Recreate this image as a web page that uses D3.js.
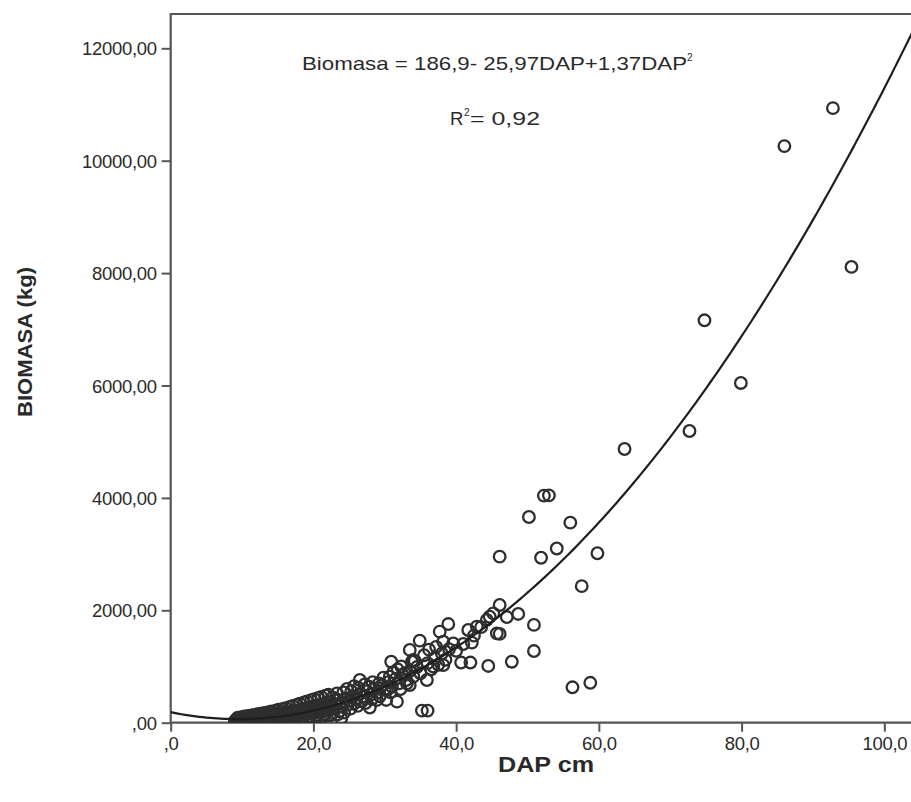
<!DOCTYPE html>
<html>
<head>
<meta charset="utf-8">
<script src="https://cdn.jsdelivr.net/npm/d3@7"></script>
<style>
  body { margin: 0; background: #fff; }
  svg { display: block; }
  text { font-family: "Liberation Sans", Arial, sans-serif; fill: #2a2a2a; }
</style>
</head>
<body>
<svg></svg>
<script>
var width = 911, height = 802;

// DAP (cm) and BIOMASA (kg)
var dap = [
  9.0, 9.2, 9.3, 9.5, 9.6, 9.8, 10.0, 10.1, 10.2, 10.4, 10.5, 10.7, 10.9, 11.0, 11.2, 11.4, 11.5, 11.6, 11.8,
  12.0, 12.2, 12.3, 12.5, 12.7, 12.8, 13.0, 13.2, 13.4, 13.5, 13.6, 13.8, 14.0, 14.2, 14.3, 14.5, 14.6, 14.8,
  15.0, 15.2, 15.3, 15.5, 15.6, 15.8, 16.0, 16.2, 16.3, 16.5, 16.6, 16.8, 17.0, 17.2, 17.3, 17.5, 17.6, 17.8,
  18.0, 18.2, 18.3, 18.5, 18.6, 18.8, 19.0, 19.2, 19.3, 19.5, 19.6, 19.8, 20.0, 20.2, 20.3, 20.5, 20.6, 20.8,
  21.0, 21.2, 21.3, 21.5, 21.6, 21.8, 22.0, 22.2, 22.3, 22.5, 22.6, 22.8, 23.0, 23.2, 23.5, 23.6, 23.8, 24.0,
  24.5, 24.8, 25.0, 25.5, 25.8, 26.0, 26.5, 26.8, 27.0, 27.5, 28.0, 28.5, 29.0, 29.5, 30.0, 30.5, 31.0, 31.5,
  32.0, 32.5, 33.0, 33.5, 34.0, 34.5, 35.0, 36.0, 36.5, 37.0, 37.5, 38.0, 38.5, 39.0, 40.0, 41.0, 42.5, 43.5,
  9.4, 9.9, 10.3, 10.8, 11.3, 11.7, 12.1, 12.6, 13.1, 13.7, 14.1, 14.7, 15.1, 15.7, 16.1, 16.7, 17.1, 17.7,
  18.1, 18.7, 19.1, 19.7, 20.1, 20.7, 21.1, 21.7, 22.1, 22.7, 23.3, 24.2, 24.7, 25.3, 25.7, 26.3, 27.2, 27.8,
  28.3, 29.2, 29.8, 30.7, 31.2, 31.8, 32.3, 32.8, 34.2, 35.5, 36.2, 37.2,
  10.6, 11.9, 13.3, 14.4, 15.4, 16.4, 17.4, 18.4, 19.4, 20.4, 21.4, 22.4, 23.4, 24.3, 25.2, 26.2, 27.3, 28.2,
  29.3, 30.8, 32.2,
  23.9, 26.5, 27.9, 28.9, 30.2, 30.3, 30.9, 31.7, 33.1, 33.5, 33.5, 33.8, 34.0, 34.9, 35.2, 35.9, 36.0, 36.8,
  37.7, 38.2, 38.2, 38.9, 39.6, 40.7, 41.7, 42.0, 42.2, 42.9, 44.3, 44.5, 44.7, 45.2, 45.7, 46.1, 46.1, 46.1,
  47.1, 47.8, 48.7, 50.2, 50.9, 50.9, 51.9, 52.3, 53.0, 54.1, 56.0, 56.3, 57.6, 58.8, 59.8, 63.6, 72.7, 74.8,
  79.9, 86.0, 92.8, 95.4
];
var biomasa = [
  30, 60, 45, 25, 70, 55, 40, 20, 60, 85, 35, 70, 30, 50, 80, 100, 45, 25, 65,
  90, 55, 115, 75, 40, 100, 60, 85, 130, 110, 45, 70, 95, 125, 150, 80, 55, 105,
  140, 90, 170, 120, 60, 155, 100, 190, 135, 170, 75, 115, 150, 215, 190, 125, 85, 165,
  210, 240, 140, 185, 100, 230, 155, 270, 200, 250, 115, 170, 225, 300, 280, 190, 130, 250,
  310, 330, 215, 270, 150, 340, 235, 380, 300, 370, 170, 260, 330, 420, 400, 200, 290, 360,
  430, 320, 390, 470, 350, 430, 510, 380, 470, 560, 500, 610, 540, 660, 590, 720, 640, 780,
  700, 850, 760, 920, 820, 990, 880, 1060, 950, 1150, 1030, 1230, 1120, 1310, 1280, 1400, 1550, 1700,
  90, 100, 110, 120, 130, 140, 150, 160, 175, 185, 200, 215, 230, 245, 260, 280, 300, 320,
  340, 360, 380, 400, 420, 440, 460, 480, 500, 450, 520, 540, 600, 560, 650, 620, 680, 640,
  720, 700, 800, 820, 900, 950, 1000, 880, 1100, 1200, 1300, 1350,
  10, 15, 20, 30, 40, 50, 60, 70, 80, 95, 110, 130, 150, 180, 250, 300, 350, 420,
  470, 540, 600,
  80, 760, 270, 405, 405, 580, 1085, 375, 700, 670, 1295, 1085, 1115, 1460, 215, 760, 215, 1000,
  1620, 1025, 1440, 1755, 1410, 1070, 1650, 1070, 1425, 1710, 1830, 1010, 1885, 1945, 1590, 2095, 1580, 2955,
  1880, 1085, 1935, 3660, 1740, 1275, 2935, 4040, 4045, 3100, 3560, 630, 2430, 710, 3015, 4870, 5190, 7160,
  6045, 10260, 10935, 8110
];

// fitted curve: Biomasa = 186,9 - 25,97 DAP + 1,37 DAP^2
var coef = [186.9, -25.97, 1.37];

var xTicks = [0, 20, 40, 60, 80, 100];
var yTicks = [0, 2000, 4000, 6000, 8000, 10000, 12000];

var fmtX = function(v) { return d3.format(".1f")(v).replace(".", ",").replace(/^0,/, ","); };
var fmtY = function(v) { return d3.format(".2f")(v).replace(".", ",").replace(/^0,/, ","); };

var svg = d3.select("svg").attr("width", width).attr("height", height);

var x = d3.scaleLinear().domain([0, 100]).range([170.7, 884.3]);
var y = d3.scaleLinear().domain([0, 12000]).range([722.7, 48.3]);

var plotTop = 14, plotRight = 920;

svg.append("defs").append("clipPath").attr("id", "plot")
  .append("rect")
  .attr("x", x(0)).attr("y", plotTop)
  .attr("width", plotRight - x(0)).attr("height", y(0) - plotTop);

// frame
svg.append("path")
  .attr("d", "M" + plotRight + "," + plotTop + "H" + x(0) + "V" + y(0) + "H" + plotRight)
  .attr("fill", "none")
  .attr("stroke", "#555")
  .attr("stroke-width", 2.2);

// axes
var xAxis = svg.append("g")
  .attr("transform", "translate(0," + y(0) + ")")
  .call(d3.axisBottom(x).tickValues(xTicks).tickSize(9).tickPadding(5).tickFormat(fmtX));
var yAxis = svg.append("g")
  .attr("transform", "translate(" + x(0) + ",0)")
  .call(d3.axisLeft(y).tickValues(yTicks).tickSize(9).tickPadding(5).tickFormat(fmtY));

[xAxis, yAxis].forEach(function(a) {
  a.select(".domain").remove();
  a.selectAll("line").attr("stroke", "#555").attr("stroke-width", 2);
  a.selectAll("text")
    .attr("font-family", "'Liberation Sans', Arial, sans-serif")
    .attr("font-size", 18.5)
    .attr("fill", "#333")
    .attr("letter-spacing", -0.3);
});
yAxis.selectAll("text").attr("dy", "0.36em");

// points
var g = svg.append("g").attr("clip-path", "url(#plot)");

g.selectAll("circle")
  .data(d3.range(dap.length))
  .join("circle")
  .attr("cx", function(i) { return x(dap[i]); })
  .attr("cy", function(i) { return y(biomasa[i]); })
  .attr("r", 5.8)
  .attr("fill", "none")
  .attr("stroke", "#2e2e2e")
  .attr("stroke-width", 2.3);

// fitted curve
var curveX = d3.range(0, 106, 0.5);
var line = d3.line()
  .x(function(d) { return x(d); })
  .y(function(d) { return y(coef[0] + coef[1] * d + coef[2] * d * d); });

g.append("path")
  .datum(curveX)
  .attr("d", line)
  .attr("fill", "none")
  .attr("stroke", "#1e1e1e")
  .attr("stroke-width", 2.2);

// annotation
svg.append("text")
  .attr("x", 302).attr("y", 70)
  .attr("font-size", 18.5)
  .attr("textLength", 385)
  .attr("lengthAdjust", "spacingAndGlyphs")
  .text("Biomasa = 186,9- 25,97DAP+1,37DAP");
svg.append("text")
  .attr("x", 687).attr("y", 61)
  .attr("font-size", 10)
  .text("2");

svg.append("text")
  .attr("x", 450).attr("y", 125)
  .attr("font-size", 18.5)
  .text("R");
svg.append("text")
  .attr("x", 464).attr("y", 116)
  .attr("font-size", 10)
  .text("2");
svg.append("text")
  .attr("x", 470).attr("y", 125)
  .attr("font-size", 18.5)
  .attr("textLength", 70)
  .attr("lengthAdjust", "spacingAndGlyphs")
  .text("= 0,92");

// axis titles
svg.append("text")
  .attr("x", 498).attr("y", 772)
  .attr("font-size", 22)
  .attr("font-weight", "bold")
  .attr("textLength", 96)
  .attr("lengthAdjust", "spacingAndGlyphs")
  .text("DAP cm");

svg.append("text")
  .attr("transform", "translate(32,417) rotate(-90)")
  .attr("font-size", 20)
  .attr("font-weight", "bold")
  .attr("textLength", 150)
  .attr("lengthAdjust", "spacingAndGlyphs")
  .text("BIOMASA (kg)");
</script>
</body>
</html>
